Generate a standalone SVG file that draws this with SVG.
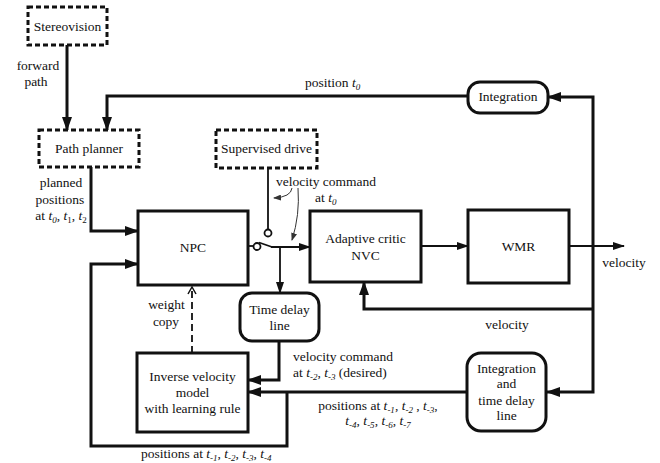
<svg xmlns="http://www.w3.org/2000/svg" width="660" height="463" viewBox="0 0 660 463" font-family="'Liberation Serif', Tinos, 'DejaVu Serif', serif">
  <style>
    text { font-family: "Liberation Serif", Tinos, "DejaVu Serif", serif; font-size: 13.5px; fill: #111; }
    .c { text-anchor: middle; }
    .i { font-style: italic; }
    .box { fill: #fff; stroke: #111; stroke-width: 3; }
    .dash { fill: #fff; stroke: #111; stroke-width: 3; stroke-dasharray: 5 3; }
    .thick { fill: none; stroke: #111; stroke-width: 3; }
    .thin { fill: none; stroke: #111; stroke-width: 1.8; }
    .hair { fill: none; stroke: #333; stroke-width: 1; }
  </style>
  <defs>
    <marker id="ah" markerUnits="userSpaceOnUse" markerWidth="14" markerHeight="10" refX="13" refY="5" orient="auto">
      <path d="M0,0 L14,5 L0,10 z" fill="#111"/>
    </marker>
    <marker id="ahs" markerUnits="userSpaceOnUse" markerWidth="12" markerHeight="8" refX="11" refY="4" orient="auto">
      <path d="M0,0 L12,4 L0,8 z" fill="#111"/>
    </marker>
    <marker id="ahh" markerUnits="userSpaceOnUse" markerWidth="8" markerHeight="6" refX="7" refY="3" orient="auto">
      <path d="M0,0 L8,3 L0,6 z" fill="#333"/>
    </marker>
    <marker id="open" markerUnits="userSpaceOnUse" markerWidth="10" markerHeight="10" refX="8" refY="5" orient="auto">
      <path d="M1,1 L8,5 L1,9" fill="none" stroke="#111" stroke-width="1.5"/>
    </marker>
  </defs>

  <!-- connectors -->
  <g id="connectors">
    <line class="thick" x1="67" y1="45" x2="67" y2="130" marker-end="url(#ah)"/>
    <path class="thick" d="M468,96 H107 V130" marker-end="url(#ah)"/>
    <path class="thick" d="M91,167 V231 H138" marker-end="url(#ah)"/>
    <path class="thick" d="M287,392 V446 H91 V264 H138" marker-end="url(#ah)"/>
    <!-- supervised drive contact and switch -->
    <line class="thin" x1="268" y1="168" x2="268" y2="229.5"/>
    <circle cx="268" cy="233" r="3.5" fill="#fff" stroke="#111" stroke-width="1.8"/>
    <line class="thin" x1="248" y1="246" x2="253.5" y2="246"/>
    <circle cx="257" cy="246.5" r="3.5" fill="#fff" stroke="#111" stroke-width="1.8"/>
    <line class="thin" x1="259" y1="242.5" x2="272" y2="247"/>
    <path class="thin" d="M271,247 H310" marker-end="url(#ahs)"/>
    <line class="thin" x1="280" y1="247" x2="280" y2="293" marker-end="url(#ahs)"/>
    <path class="thick" d="M279,341 V380 H248" marker-end="url(#ah)"/>
    <path class="thin" d="M421,246 H468" marker-end="url(#ahs)"/>
    <path class="thin" d="M569,246 H624" marker-end="url(#ahs)"/>
    <path class="thick" d="M593,246 V97 H548" marker-end="url(#ah)"/>
    <path class="thick" d="M593,246 V392 H547" marker-end="url(#ah)"/>
    <path class="thick" d="M593,309 H364 V282" marker-end="url(#ah)"/>
    <path class="thick" d="M467,392 H248" marker-end="url(#ah)"/>
    <line x1="192" y1="353" x2="192" y2="287" stroke="#111" stroke-width="1.8" stroke-dasharray="7 4" marker-end="url(#open)"/>
    <!-- pointers from the velocity command label -->
    <path class="hair" d="M292,188 Q291,197 274,198" marker-end="url(#ahh)"/>
    <path class="hair" d="M298,188 Q300,215 292,240" marker-end="url(#ahh)"/>
  </g>

  <!-- nodes -->
  <g id="stereovision">
    <rect class="dash" x="28" y="7" width="79" height="38"/>
    <text class="c" x="67.5" y="31">Stereovision</text>
  </g>
  <g id="path-planner">
    <rect class="dash" x="39" y="130" width="100" height="37"/>
    <text class="c" x="89" y="153">Path planner</text>
  </g>
  <g id="supervised-drive">
    <rect class="dash" x="216" y="130" width="101" height="38"/>
    <text class="c" x="266.5" y="153">Supervised drive</text>
  </g>
  <g id="npc">
    <rect class="box" x="138" y="211" width="110" height="74"/>
    <text class="c" x="193" y="252">NPC</text>
  </g>
  <g id="adaptive-critic">
    <rect class="box" x="310" y="211" width="111" height="71"/>
    <text class="c" x="365.5" y="243">Adaptive critic</text>
    <text class="c" x="365.5" y="260">NVC</text>
  </g>
  <g id="wmr">
    <rect class="box" x="468" y="210" width="101" height="73"/>
    <text class="c" x="518.5" y="251">WMR</text>
  </g>
  <g id="integration">
    <rect class="box" x="468" y="82" width="80" height="31" rx="12"/>
    <text class="c" x="508" y="101">Integration</text>
  </g>
  <g id="time-delay-line">
    <rect class="box" x="240" y="293" width="79" height="48" rx="12"/>
    <text class="c" x="279.5" y="314">Time delay</text>
    <text class="c" x="279.5" y="330">line</text>
  </g>
  <g id="integration-delay">
    <rect class="box" x="467" y="353" width="79" height="78" rx="14"/>
    <text class="c" x="506.5" y="373">Integration</text>
    <text class="c" x="506.5" y="388">and</text>
    <text class="c" x="506.5" y="405">time delay</text>
    <text class="c" x="506.5" y="420">line</text>
  </g>
  <g id="inverse-model">
    <rect class="box" x="137" y="353" width="111" height="79"/>
    <text class="c" x="192.5" y="381">Inverse velocity</text>
    <text class="c" x="192.5" y="397">model</text>
    <text class="c" x="192.5" y="413">with learning rule</text>
  </g>

  <!-- labels -->
  <g id="labels">
    <text class="c" x="38" y="70">forward</text>
    <text class="c" x="36" y="86">path</text>
    <text class="c" x="61" y="187">planned</text>
    <text class="c" x="60" y="204">positions</text>
    <text class="c" x="61" y="220">at <tspan class="i">t</tspan><tspan class="i" font-size="9" dy="3">0</tspan><tspan dy="-3">, </tspan><tspan class="i">t</tspan><tspan font-size="9" dy="3">1</tspan><tspan dy="-3">, </tspan><tspan class="i">t</tspan><tspan font-size="9" dy="3">2</tspan></text>
    <text x="305" y="87">position <tspan class="i">t</tspan><tspan class="i" font-size="9" dy="3">0</tspan></text>
    <text x="276" y="186">velocity command</text>
    <text x="315" y="202">at <tspan class="i">t</tspan><tspan class="i" font-size="9" dy="3">0</tspan></text>
    <text class="c" x="624" y="267">velocity</text>
    <text class="c" x="507" y="329">velocity</text>
    <text class="c" x="166.5" y="309">weight</text>
    <text class="c" x="166" y="326">copy</text>
    <text x="293" y="361">velocity command</text>
    <text x="293" y="377">at  <tspan class="i">t</tspan><tspan class="i" font-size="9" dy="3">-2</tspan><tspan dy="-3">, </tspan><tspan class="i">t</tspan><tspan class="i" font-size="9" dy="3">-3</tspan><tspan dy="-3"> (desired)</tspan></text>
    <text class="c" x="378" y="410">positions at <tspan class="i">t</tspan><tspan class="i" font-size="9" dy="3">-1</tspan><tspan dy="-3">, </tspan><tspan class="i">t</tspan><tspan class="i" font-size="9" dy="3">-2</tspan><tspan dy="-3"> , </tspan><tspan class="i">t</tspan><tspan class="i" font-size="9" dy="3">-3</tspan><tspan dy="-3">,</tspan></text>
    <text class="c" x="378" y="425"><tspan class="i">t</tspan><tspan class="i" font-size="9" dy="3">-4</tspan><tspan dy="-3">, </tspan><tspan class="i">t</tspan><tspan class="i" font-size="9" dy="3">-5</tspan><tspan dy="-3">, </tspan><tspan class="i">t</tspan><tspan class="i" font-size="9" dy="3">-6</tspan><tspan dy="-3">, </tspan><tspan class="i">t</tspan><tspan class="i" font-size="9" dy="3">-7</tspan></text>
    <text x="141" y="458">positions at <tspan class="i">t</tspan><tspan class="i" font-size="9" dy="2.5">-1</tspan><tspan dy="-2.5">, </tspan><tspan class="i">t</tspan><tspan class="i" font-size="9" dy="2.5">-2</tspan><tspan dy="-2.5">, </tspan><tspan class="i">t</tspan><tspan class="i" font-size="9" dy="2.5">-3</tspan><tspan dy="-2.5">, </tspan><tspan class="i">t</tspan><tspan class="i" font-size="9" dy="2.5">-4</tspan></text>
  </g>
</svg>
